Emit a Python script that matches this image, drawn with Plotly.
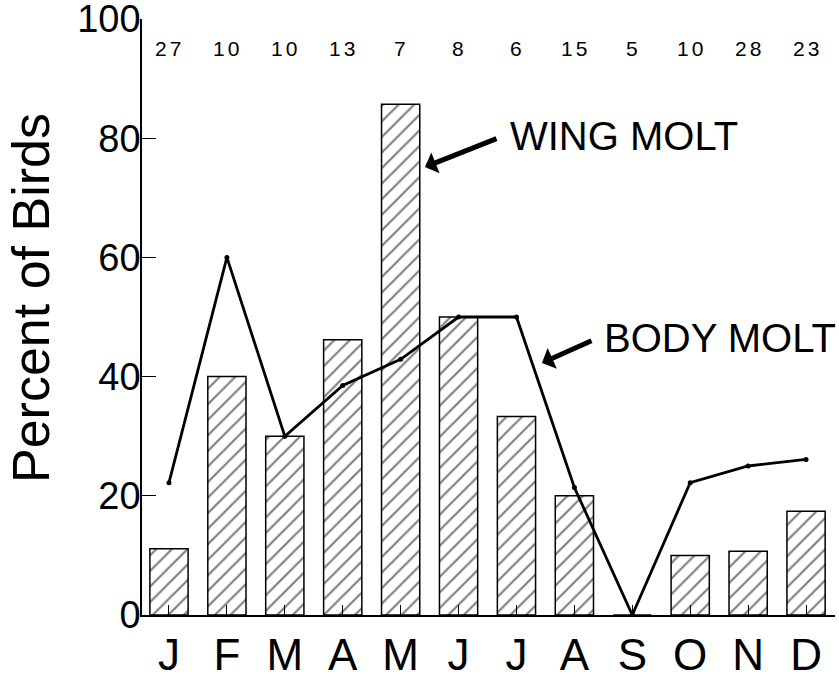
import plotly.graph_objects as go

months = ["J", "F", "M", "A", "M", "J", "J", "A", "S", "O", "N", "D"]
sample_sizes = [27, 10, 10, 13, 7, 8, 6, 15, 5, 10, 28, 23]
wing_molt = [11.1, 40.0, 30.0, 46.2, 85.7, 50.0, 33.3, 20.0, 0.0, 10.0, 10.7, 17.4]
body_molt = [22.2, 60.0, 30.0, 38.5, 42.9, 50.0, 50.0, 21.4, 0.0, 22.2, 25.0, 26.1]
y_ticks = [0, 20, 40, 60, 80, 100]

xs = list(range(len(months)))
FONT = "Liberation Sans, Arial, Helvetica, sans-serif"

W, H = 839, 678
AX_L, AX_R, AX_T, AX_B = 142, 835, 19, 615  # page pixels of plot area
ML, MR, MT, MB = AX_L, W - AX_R, AX_T, H - AX_B
PW = W - ML - MR
PH = H - MT - MB


def px_x(px):
    return (px - AX_L) / PW


def px_y(py):
    return 1 - (py - AX_T) / PH


fig = go.Figure()
fig.add_trace(go.Bar(
    x=xs, y=wing_molt, width=0.66,
    marker=dict(color="white",
                line=dict(color="black", width=1.5),
                pattern=dict(shape="/", fgcolor="black", bgcolor="white",
                             size=11, solidity=0.2)),
    hoverinfo="y",
))
fig.add_trace(go.Scatter(
    x=xs, y=body_molt, mode="lines+markers",
    line=dict(color="black", width=2.8),
    marker=dict(color="black", size=5),
))

annotations = []
for x, n in zip(xs, sample_sizes):
    annotations.append(dict(x=x, y=px_y(49), xref="x", yref="paper",
                            xanchor="center", yanchor="middle",
                            text='<span style="letter-spacing:3px">%d</span>' % n,
                            showarrow=False, xshift=1,
                            font=dict(family=FONT, size=21, color="black")))

annotations.append(dict(x=px_x(624), y=px_y(136), xref="paper", yref="paper",
                        xanchor="center", yanchor="middle",
                        text="WING MOLT", showarrow=False,
                        font=dict(family=FONT, size=40, color="black")))
annotations.append(dict(x=px_x(720), y=px_y(338), xref="paper", yref="paper",
                        xanchor="center", yanchor="middle",
                        text="BODY MOLT", showarrow=False,
                        font=dict(family=FONT, size=40, color="black")))

# arrows (head at x,y; tail offset in pixels)
for (hx, hy, tx, ty) in [(425, 167, 498, 138), (542, 363, 593, 340)]:
    annotations.append(dict(x=px_x(hx), y=px_y(hy), xref="paper", yref="paper",
                            ax=tx - hx, ay=ty - hy, axref="pixel", ayref="pixel",
                            text="", showarrow=True, arrowhead=1, arrowsize=0.75,
                            arrowwidth=5, arrowcolor="black", standoff=0))

annotations.append(dict(x=px_x(31), y=px_y(298), xref="paper", yref="paper",
                        xanchor="center", yanchor="middle",
                        text="Percent of Birds", textangle=-90, showarrow=False,
                        font=dict(family=FONT, size=52, color="black")))

fig.update_layout(
    width=W, height=H,
    margin=dict(l=ML, r=MR, t=MT, b=MB, pad=0),
    paper_bgcolor="white", plot_bgcolor="white",
    showlegend=False,
    annotations=annotations,
    xaxis=dict(range=[-0.466, 11.5], tickmode="array", tickvals=xs, ticktext=months,
               ticks="inside", ticklen=10, tickwidth=1, tickcolor="black",
               showline=True, linecolor="black", linewidth=2,
               showgrid=False, zeroline=False, automargin=False,
               ticklabeloverflow="allow",
               tickfont=dict(family=FONT, size=44, color="black")),
    yaxis=dict(range=[0, 100], tickmode="array", tickvals=y_ticks,
               ticks="inside", ticklen=14, tickwidth=1.2, tickcolor="black",
               showline=True, linecolor="black", linewidth=1.5,
               showgrid=False, zeroline=False, automargin=False,
               ticklabeloverflow="allow", ticklabelstandoff=-8,
               tickfont=dict(family=FONT, size=38, color="black")),
)

fig.write_html("out.html", config={"displayModeBar": False},
               post_script="document.body.style.margin='0';")
